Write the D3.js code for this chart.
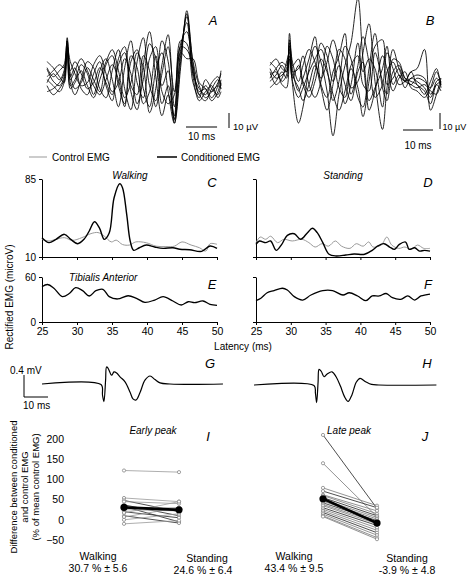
<!DOCTYPE html>
<html><head><meta charset="utf-8">
<script src="https://cdn.jsdelivr.net/npm/d3@7"></script>
<style>
body{margin:0;background:#fff}
svg{display:block}
text{font-family:"Liberation Sans",Arial,Helvetica,sans-serif;fill:#000}
</style>
</head><body>
<svg id="fig" width="468" height="576"></svg>
<script>
// ---------- DATA ----------
// Panel A: raw EMG sweeps (µV) at times (ms)
const timesA = [0,2,4,5.5,6.5,7.5,9,11,13,15,17,19,21,23,25,27,29,31,33,35,37,39,41,43,45,47,49,51,53,55,56];
const tracesA = [
  [5,-3,-6,0,26,2,-8,-4,6,-2,-10,8,14,-6,-18,10,18,-8,-20,4,16,-10,-31,6,44,8,-12,-6,-10,-4,2],
  [-4,2,-2,4,24,0,6,-8,-12,2,10,-6,-16,12,20,-10,-22,8,30,0,-26,-12,-28,18,36,2,-8,-12,-4,0,-6],
  [10,6,0,-4,22,-6,-2,8,2,-12,4,12,-2,-20,6,24,-4,-14,12,20,-10,-18,-12,24,22,-4,-14,-2,-8,-12,-4],
  [-10,-8,-4,2,18,-4,-12,-2,10,6,-8,-14,4,18,-8,-22,10,26,-6,-16,8,28,-20,14,40,10,-6,-14,-10,-6,-8],
  [0,4,8,6,20,10,2,-6,-4,8,14,2,-10,-4,12,2,-18,-2,22,12,-18,-6,-26,20,18,6,-10,-8,-14,-6,4],
  [-6,-12,-8,-2,16,-8,-4,4,-6,-14,-2,10,18,4,-14,-4,16,6,-24,-8,24,10,-31,10,42,0,-16,-10,-6,-14,-10],
  [6,0,4,8,24,4,10,2,-8,-4,6,-4,-12,8,16,-6,-12,14,4,-20,2,20,-10,16,12,12,-4,-8,-16,-10,-2],
  [-2,-6,-10,-4,20,-2,4,12,4,-6,-12,-2,8,-2,-20,14,6,-18,-10,14,-6,4,-29,22,30,4,-12,-16,-8,-2,-8]
];
// Panel B: raw EMG sweeps (µV)
const timesB = [0,2,4,5.5,6.5,7.5,9.5,11,13,15,17,19,21,23,25,27,29.3,31,33,35,37.5,39,41,43,45,47,49,51.5,53.5,55.5,57];
const tracesB = [
  [8,4,-4,0,26,4,-10,-2,10,24,-6,-14,2,12,26,-8,-4,14,32,-4,-34,-8,16,4,-4,2,-6,-10,-18,-6,-10],
  [-4,0,6,2,22,-6,-30,-20,4,18,8,-10,-38,-12,6,20,48,10,-16,-8,4,18,-6,0,-8,-2,-4,-8,-14,-4,-2],
  [2,-6,-2,8,14,2,4,12,-6,-14,-4,18,10,-8,-14,6,12,-6,-10,14,-4,-12,10,8,-2,-6,-2,-4,-8,-2,-6],
  [-8,-4,2,-2,10,-2,6,-6,-14,-4,10,2,-12,-22,-10,4,-8,-26,-4,18,22,-6,-2,4,-4,-6,-8,-6,-10,-12,-4],
  [6,10,4,2,20,8,-4,6,16,8,-8,-22,-6,16,10,-12,6,24,8,-14,-6,14,4,-6,-4,2,4,16,-22,-12,-2],
  [0,2,-6,-8,12,-4,-14,-8,2,10,16,4,-16,-4,18,10,-14,-20,4,26,-8,-16,2,6,-2,-4,-6,-12,-4,4,-8],
  [4,-2,0,4,18,6,10,-4,-10,2,20,12,-4,6,-6,-16,2,8,-22,-10,12,4,-10,-2,2,-8,-10,-14,-8,2,-6],
  [-2,4,8,6,16,0,-8,-16,-6,6,-2,8,22,8,-18,-6,20,2,10,4,-20,2,8,0,-4,-2,0,-2,-12,-6,-4]
];
// Panel C (walking) rectified EMG, microV
const latCctl = [25,26,27,28.2,29.3,30.7,32,33,33.9,34.9,35.6,36.5,37.5,38.4,39.9,41.3,42.7,43.9,45,46.3,47.5,48.4,49,50];
const valCctl = [27,25.4,27,28.6,26,28.6,32.5,33.5,30,24.5,26.2,22,21.5,24.5,23.7,20.4,20,20.4,24.5,21.5,18.9,15.7,22.8,22.2];
const latCcond = [25,26,27,28.2,29.1,30.1,31,31.75,32.5,33.2,33.9,34.6,35.3,36.1,36.5,37.1,37.6,38.1,38.9,39.9,41.1,42.3,43.7,44.7,46.1,47.8,49,50];
const valCcond = [28.6,23.8,27,31.8,27,22.8,27,35,43.9,38,27,33,67,80.5,76.6,51,25.4,16.4,18.9,21.5,19.6,18.3,18.9,17.4,17,15.4,20.6,18.3];
// Panel D (standing)
const latDctl = [25,25.6,26.4,27.1,28.1,29,30.2,31.6,32.6,33.5,34.5,35.4,36.4,37.3,38.5,39.4,40.4,41.2,41.8,43,43.8,44.5,45.5,46.4,47.3,48.2,49.1,50];
const valDctl = [23.8,29.2,27,30,23.8,27,25.4,27,23.8,19.6,22.8,20.4,25.4,20.4,18.3,22.8,20.4,24.5,19.6,21.5,29.2,21.5,18.3,19.6,17.4,21.5,18.3,18.3];
const latDcond = [25,25.5,26.4,27.1,27.9,28.7,29.5,30.5,31.4,32.4,33.1,33.8,34.6,35.5,36.5,37.9,39.1,40.6,41.7,42.5,43.4,44.2,44.9,45.6,46.5,47,47.8,48.5,49.2,50];
const valDcond = [22.2,25.4,23.8,25.4,16.4,22.2,30.8,32.4,27,33.4,37.6,33.4,23.8,12.6,11,11.9,12.9,12.6,16.4,20.6,22.8,19.6,17.4,22.2,24.4,17.4,18.9,15.7,16.4,15.7];
// Panel E / F: Tibialis Anterior background EMG
const latE = [25,25.8,26.7,27.9,28.9,29.8,30.8,31.75,32.7,33.7,34.6,35.8,37.3,38.5,39.7,41.1,42.3,43.7,44.9,45.9,46.8,48,49,50];
const valE = [47,50,45,33.8,38,45.8,41.8,34.7,41.8,43.6,33.8,30.7,35,31.6,26.2,29.3,33.8,28,22.7,27,25.8,28,23.6,22.2];
const latF = [25,25.7,26.6,27.6,28.8,29.5,30.5,31.7,32.9,34.6,36,37.5,38.4,39.6,40.8,41.7,42.7,43.7,44.6,45.8,46.8,47.8,48.7,50];
const valF = [28.4,31.6,39,41.8,45,42.7,33.8,29.3,36,41.8,41.8,36,39,34.7,28.4,34.7,34.7,38,32.4,30.2,34.7,29.3,34.7,37.3];
const latencyTicks = [25,30,35,40,45,50];
// Panels G / H: averaged M-wave (mV)
const timesG = [0,24.6,25.2,25.8,26.5,26.9,27.5,29.0,30.0,31.1,32.5,34.6,36.7,37.9,39.2,40.8,42.9,45.0,47.1,49.2,53.3,75.4];
const valG = [0,-0.01,-0.2,-0.32,0.07,0.31,0.29,0.16,0.22,0.2,0.13,0.04,-0.15,-0.27,-0.29,-0.16,0.07,0.145,0.08,0.02,0,0];
const timesH = [0,25.0,25.6,26.1,26.7,27.1,28.0,29.2,30.5,32.5,34.2,36.0,37.8,39.2,40.8,42.6,44.2,46.5,49,52,76];
const valH = [0,-0.01,-0.15,-0.32,0.05,0.285,0.25,0.15,0.2,0.24,0.15,-0.02,-0.22,-0.3,-0.18,0.05,0.12,0.06,0.01,0,0];
// Panels I / J: difference (% of mean control EMG)
const conditions = ["Walking","Standing"];
const iWalking  = [122,54,48,45,37,33,29,25,20,17,10,7,0,-10];
const iStanding = [118,45,20,40,10,-5,30,22,5,45,-8,30,15,-2];
const iMean = [30.7,24.6];
const iLabels = ["30.7 % ± 5.6","24.6 % ± 6.4"];
const jWalking  = [210,140,79,71,62,60,55,50,46,42,38,35,30,26,22,18,14,10,8];
const jStanding = [28,8,35,30,22,15,10,6,2,-2,-6,-10,-14,-20,-26,-32,-38,-44,-48];
const jMean = [52,-8];
const jLabels = ["43.4 % ± 9.5","-3.9 % ± 4.8"];
const diffTicks = [-50,0,50,100,150,200];

// ---------- DRAWING ----------
const svg = d3.select("#fig");
const font = "Liberation Sans, Arial, sans-serif";

function txt(x,y,s,opts={}){
  const t = svg.append("text").attr("x",x).attr("y",y).text(s)
    .attr("font-size",opts.size||10)
    .attr("text-anchor",opts.anchor||"start");
  if(opts.italic) t.attr("font-style","italic");
  if(opts.rotate) t.attr("transform",`rotate(-90,${x},${y})`);
  return t;
}
function letter(x,y,s){ txt(x,y,s,{size:13,italic:true,anchor:"middle"}); }

// --- A & B raw sweeps ---
function sweeps(times, traces, xr, yc, pxPerUv){
  const x = d3.scaleLinear().domain([times[0],times[times.length-1]]).range(xr);
  const y = d3.scaleLinear().domain([-10,10]).range([yc+10*pxPerUv, yc-10*pxPerUv]);
  const line = d3.line().x((d,i)=>x(times[i])).y(d=>y(d)).curve(d3.curveCatmullRom.alpha(0.5));
  svg.append("g").selectAll("path").data(traces).join("path")
    .attr("d",line).attr("fill","none").attr("stroke","#000").attr("stroke-width",0.85);
  return {x,y};
}
const sA = sweeps(timesA, tracesA, [47,221], 76.7, 1.5);
const sB = sweeps(timesB, tracesB, [270,441], 75, 1.6);
// scale bars A / B
(function(){
  const w = sA.x(10)-sA.x(0), h = sA.y(0)-sA.y(10);
  svg.append("line").attr("x1",186).attr("x2",186+w).attr("y1",127).attr("y2",127).attr("stroke","#000");
  txt(186+w/2,140,"10 ms",{anchor:"middle"});
  svg.append("line").attr("x1",229).attr("x2",229).attr("y1",113).attr("y2",113+h).attr("stroke","#000");
  txt(233,130,"10 µV",{size:9.5});
  const wB = sB.x(10)-sB.x(0), hB = sB.y(0)-sB.y(10);
  svg.append("line").attr("x1",403).attr("x2",403+wB).attr("y1",130).attr("y2",130).attr("stroke","#000");
  txt(403+wB/2,149,"10 ms",{anchor:"middle"});
  svg.append("line").attr("x1",440).attr("x2",440).attr("y1",113).attr("y2",113+hB).attr("stroke","#000");
  txt(442.5,130,"10 µV",{size:9});
})();
letter(213,25,"A");
letter(430,25,"B");

// legend
svg.append("line").attr("x1",29).attr("x2",47).attr("y1",157).attr("y2",157).attr("stroke","#999").attr("stroke-width",1);
txt(52,161,"Control EMG");
svg.append("line").attr("x1",157).attr("x2",177).attr("y1",157).attr("y2",157).attr("stroke","#000").attr("stroke-width",1.5);
txt(181,161,"Conditioned EMG");

// --- C/D/E/F ---
function panel(x0, x1, yTop, yBot, yDom, showY, showX){
  const x = d3.scaleLinear().domain([25,50]).range([x0,x1]);
  const y = d3.scaleLinear().domain(yDom).range([yBot,yTop]);
  const ya = d3.axisLeft(y).tickValues(yDom).tickSize(3).tickSizeOuter(0).tickFormat(showY?d3.format("d"):"");
  const gy = svg.append("g").attr("transform",`translate(${x0},0)`).call(ya);
  const xa = d3.axisBottom(x).tickValues(latencyTicks).tickSize(3).tickSizeOuter(0).tickFormat(showX?d3.format("d"):"");
  const gx = svg.append("g").attr("transform",`translate(0,${yBot})`).call(xa);
  [gx,gy].forEach(g=>{
    g.selectAll("path,line").attr("stroke","#000").attr("stroke-width",1);
    g.selectAll("text").attr("font-size",10.5).attr("font-family",font).attr("fill","#000");
  });
  gy.selectAll("text").attr("font-size",10);
  return {x,y};
}
function curve(p, lats, vals, color, w){
  const line = d3.line().x((d,i)=>p.x(lats[i])).y(d=>p.y(d)).curve(d3.curveCatmullRom.alpha(0.5));
  svg.append("path").datum(vals).attr("d",line).attr("fill","none").attr("stroke",color).attr("stroke-width",w);
}
const pC = panel(42,217,179,257,[10,85],true,false);
curve(pC, latCctl, valCctl, "#9a9a9a", 1);
curve(pC, latCcond, valCcond, "#000", 1.4);
const pD = panel(256,430,179,257,[10,85],false,false);
curve(pD, latDctl, valDctl, "#9a9a9a", 1);
curve(pD, latDcond, valDcond, "#000", 1.4);
const pE = panel(42,217,277,322,[0,60],true,true);
curve(pE, latE, valE, "#000", 1.3);
const pF = panel(256,430,277,322,[0,60],false,true);
curve(pF, latF, valF, "#000", 1.3);
txt(130,179,"Walking",{italic:true,anchor:"middle"});
txt(343,179,"Standing",{italic:true,anchor:"middle"});
txt(69,281,"Tibialis Anterior",{italic:true});
letter(212,187,"C"); letter(428,187,"D");
letter(212,289,"E"); letter(428,289,"F");
txt(243,350,"Latency (ms)",{anchor:"middle"});
txt(13,297,"Rectified EMG (microV)",{anchor:"middle",rotate:true});

// --- G/H ---
function mwave(times, vals, x0, yb){
  const x = d3.scaleLinear().domain([0,10]).range([x0,x0+24]);
  const y = d3.scaleLinear().domain([0,0.4]).range([yb,yb-22]);
  const line = d3.line().x((d,i)=>x(times[i])).y(d=>y(d)).curve(d3.curveCatmullRom.alpha(0.5));
  svg.append("path").datum(vals).attr("d",line).attr("fill","none").attr("stroke","#000").attr("stroke-width",1.2);
  return {x,y};
}
const mG = mwave(timesG, valG, 42, 384);
mwave(timesH, valH, 254, 385);
(function(){
  const h = mG.y(0)-mG.y(0.4), w = mG.x(10)-mG.x(0);
  svg.append("path").attr("d",`M24,${397-h}V397H${24+w}`).attr("fill","none").attr("stroke","#000").attr("stroke-width",1);
  txt(10,374,"0.4 mV");
  txt(23,409,"10 ms");
})();
letter(210,368,"G"); letter(427,368,"H");

// --- I/J ---
const yD = d3.scaleLinear().domain([-50,200]).range([540,439]);
const gya = svg.append("g").attr("transform","translate(65,0)")
  .call(d3.axisLeft(yD).tickValues(diffTicks).tickSize(0).tickPadding(1));
gya.select(".domain").remove();
gya.selectAll("text").attr("font-size",10.5).attr("font-family",font).attr("fill","#000");

function pairs(walk, stand, mean, xr, darkIdx, lightCol){
  const x = d3.scalePoint().domain(conditions).range(xr);
  const g = svg.append("g");
  walk.forEach((w,i)=>{
    const col = darkIdx.includes(i) ? "#222" : lightCol;
    g.append("line").attr("x1",x("Walking")).attr("x2",x("Standing"))
      .attr("y1",yD(w)).attr("y2",yD(stand[i])).attr("stroke",col).attr("stroke-width",0.8);
  });
  walk.forEach((w,i)=>{
    [["Walking",w],["Standing",stand[i]]].forEach(([c,v])=>{
      g.append("circle").attr("cx",x(c)).attr("cy",yD(v)).attr("r",1.6)
        .attr("fill","#fff").attr("stroke","#777").attr("stroke-width",0.7);
    });
  });
  g.append("line").attr("x1",x("Walking")).attr("x2",x("Standing"))
    .attr("y1",yD(mean[0])).attr("y2",yD(mean[1])).attr("stroke","#000").attr("stroke-width",2.6);
  conditions.forEach((c,k)=>{
    g.append("circle").attr("cx",x(c)).attr("cy",yD(mean[k])).attr("r",3.6).attr("fill","#000");
  });
  return x;
}
pairs(iWalking,iStanding,iMean,[124,179],[2,4,5,8,10],"#999");
pairs(jWalking,jStanding,jMean,[323,377],[0,3,6,9,12,15],"#777");
txt(153,434,"Early peak",{italic:true,anchor:"middle"});
txt(349,434,"Late peak",{italic:true,anchor:"middle"});
letter(208,441,"I"); letter(425,441,"J");
txt(98,560,"Walking",{anchor:"middle",size:10.5});
txt(98,572,iLabels[0],{anchor:"middle",size:10.5});
txt(207,562,"Standing",{anchor:"middle",size:10.5});
txt(203,574,iLabels[1],{anchor:"middle",size:10.5});
txt(294,560,"Walking",{anchor:"middle",size:10.5});
txt(294,572,jLabels[0],{anchor:"middle",size:10.5});
txt(407,562,"Standing",{anchor:"middle",size:10.5});
txt(407,574,jLabels[1],{anchor:"middle",size:10.5});
txt(17,487,"Difference between conditioned",{anchor:"middle",rotate:true,size:9.5});
txt(28,487,"and control EMG",{anchor:"middle",rotate:true,size:9.5});
txt(39,487,"(% of mean control EMG)",{anchor:"middle",rotate:true,size:9.5});
</script>
</body></html>
